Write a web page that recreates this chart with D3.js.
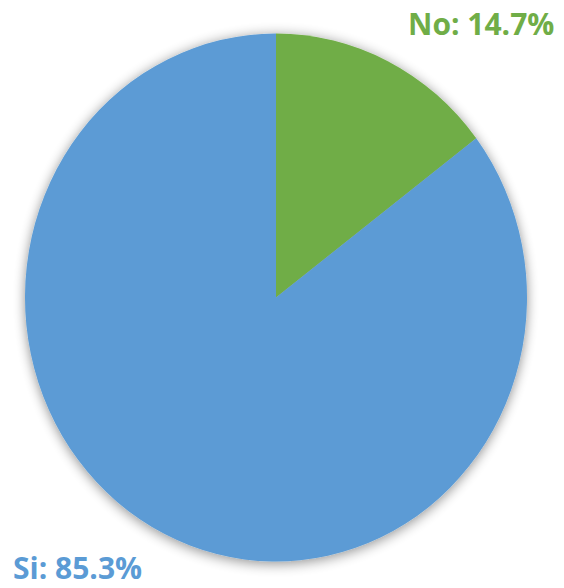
<!DOCTYPE html>
<html>
<head>
<meta charset="utf-8">
<script src="https://cdn.jsdelivr.net/npm/d3@7"></script>
<style>
  body { margin: 0; background: #fff; }
  svg { display: block; }
</style>
</head>
<body>
<div id="chart"></div>
<script>
// data
const categories = ["No", "Si"]
const values = [14.7, 85.3]
const colors = ["#70AD47", "#5B9BD5"]

const width = 564
const height = 588
const cx = 276, cy = 297.5
const rx = 251, ry = 264

const svg = d3.select("#chart").append("svg").attr("width", width).attr("height", height)

// soft shadow round the pie
const defs = svg.append("defs")
const filter = defs.append("filter").attr("id", "shadow")
    .attr("x", "-20%").attr("y", "-20%").attr("width", "140%").attr("height", "140%")
filter.append("feGaussianBlur").attr("in", "SourceAlpha").attr("stdDeviation", 6).attr("result", "blur")
filter.append("feOffset").attr("in", "blur").attr("dx", 0).attr("dy", 2).attr("result", "off")
filter.append("feComponentTransfer").attr("in", "off").attr("result", "shade")
    .append("feFuncA").attr("type", "linear").attr("slope", 0.45)
const merge = filter.append("feMerge")
merge.append("feMergeNode").attr("in", "shade")
merge.append("feMergeNode").attr("in", "SourceGraphic")

const pie = d3.pie().sort(null).value(d => d)
const arc = d3.arc().innerRadius(0).outerRadius(rx)

const pieGroup = svg.append("g")
    .attr("transform", `translate(${cx}, ${cy}) scale(1, ${ry / rx})`)
    .attr("filter", "url(#shadow)")

pieGroup.selectAll("path")
    .data(pie(values))
    .enter().append("path")
    .attr("d", arc)
    .attr("fill", (d, i) => colors[i])

// labels
const labelPos = [[408, 35], [13, 579]]
svg.selectAll("text.label")
    .data(categories)
    .enter().append("text")
    .attr("class", "label")
    .attr("x", (d, i) => labelPos[i][0])
    .attr("y", (d, i) => labelPos[i][1])
    .attr("fill", (d, i) => colors[i])
    .style("font-family", "'Open Sans', sans-serif")
    .style("font-weight", "bold")
    .style("font-size", "30px")
    .text((d, i) => d + ": " + values[i].toFixed(1) + "%")
</script>
</body>
</html>
